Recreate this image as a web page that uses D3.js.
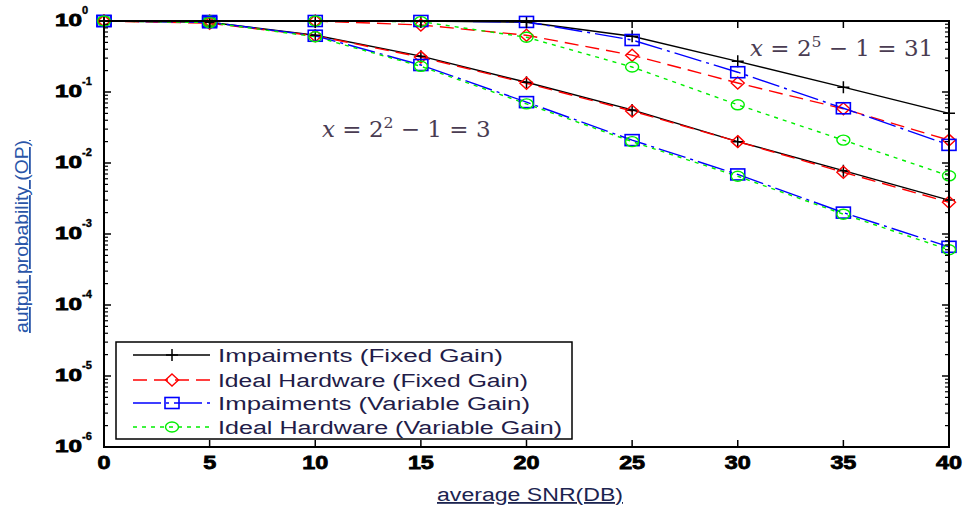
<!DOCTYPE html>
<html><head><meta charset="utf-8">
<script src="https://cdn.jsdelivr.net/npm/d3@7"></script>
<style>body{margin:0;background:#fff}svg{display:block}</style>
</head><body>
<script>
const snr = [0,5,10,15,20,25,30,35,40];
// x = 2^5 - 1 = 31
const impFixed31   = [1, 1, 1, 1, 0.96, 0.61, 0.27, 0.117, 0.05];
const idealFixed31 = [1, 1, 1, 0.88, 0.63, 0.33, 0.134, 0.058, 0.021];
const impVar31     = [1, 1, 1, 1, 0.97, 0.54, 0.19, 0.059, 0.018];
const idealVar31   = [1, 1, 1, 0.98, 0.59, 0.225, 0.066, 0.021, 0.0066];
// x = 2^2 - 1 = 3
const impFixed3    = [1, 0.96, 0.63, 0.32, 0.137, 0.056, 0.020, 0.0078, 0.0030];
const idealFixed3  = [1, 0.93, 0.62, 0.31, 0.133, 0.054, 0.020, 0.0074, 0.0028];
const impVar3      = [1, 0.96, 0.62, 0.24, 0.072, 0.021, 0.0069, 0.0020, 0.00066];
const idealVar3    = [1, 0.95, 0.60, 0.23, 0.068, 0.020, 0.0065, 0.0019, 0.00060];
const xTicks = [0,5,10,15,20,25,30,35,40];
const yExponents = [0,-1,-2,-3,-4,-5,-6];
const legendLabels = ["Impaiments (Fixed Gain)","Ideal Hardware (Fixed Gain)","Impaiments (Variable Gain)","Ideal Hardware (Variable Gain)"];

const W=965,H=510;
const L=104,R=949,T=21,B=447;
const svg=d3.select("body").append("svg").attr("width",W).attr("height",H);
const x=d3.scaleLinear().domain([0,40]).range([L,R]);
const y=d3.scaleLog().domain([1e-6,1]).range([B,T]);

const styles=[
 {color:"#000",dash:null,marker:"plus"},
 {color:"#ff0000",dash:"14,7",marker:"diamond"},
 {color:"#0000ff",dash:"28,5,3,5",marker:"square"},
 {color:"#00ee00",dash:"4,5",marker:"circle"}
];
const groups=[[impFixed31,idealFixed31,impVar31,idealVar31],[impFixed3,idealFixed3,impVar3,idealVar3]];

function marker(g,type,cx,cy,color){
  if(type==="plus"){
    g.append("path").attr("d",`M${cx-6},${cy}H${cx+6}M${cx},${cy-6}V${cy+6}`).attr("stroke",color).attr("stroke-width",1.5).attr("fill","none");
  }else if(type==="diamond"){
    g.append("path").attr("d",`M${cx},${cy-6}L${cx+6.5},${cy}L${cx},${cy+6}L${cx-6.5},${cy}Z`).attr("stroke",color).attr("stroke-width",1.4).attr("fill","none");
  }else if(type==="square"){
    g.append("rect").attr("x",cx-7).attr("y",cy-5.5).attr("width",14).attr("height",11).attr("stroke",color).attr("stroke-width",1.6).attr("fill","none");
  }else{
    g.append("ellipse").attr("cx",cx).attr("cy",cy).attr("rx",6.5).attr("ry",5).attr("stroke",color).attr("stroke-width",1.4).attr("fill","none");
  }
}

const plot=svg.append("g");
const line=d3.line().x((d,i)=>x(snr[i])).y(d=>y(d));
groups.forEach(grp=>{
  grp.forEach((vals,k)=>{
    const s=styles[k];
    plot.append("path").datum(vals).attr("d",line).attr("fill","none").attr("stroke",s.color)
      .attr("stroke-width",1.4).attr("stroke-dasharray",s.dash);
  });
});
groups.forEach(grp=>{
  grp.forEach((vals,k)=>{
    const s=styles[k];
    vals.forEach((v,i)=>marker(plot,s.marker,x(snr[i]),y(v),s.color));
  });
});

// frame and ticks
const ax=svg.append("g").attr("stroke","#000");
ax.append("rect").attr("x",L).attr("y",T).attr("width",R-L).attr("height",B-T).attr("fill","none").attr("stroke-width",2);
xTicks.forEach(t=>{
  ax.append("line").attr("x1",x(t)).attr("x2",x(t)).attr("y1",B).attr("y2",B-7).attr("stroke-width",1.5);
  ax.append("line").attr("x1",x(t)).attr("x2",x(t)).attr("y1",T).attr("y2",T+7).attr("stroke-width",1.5);
});
yExponents.forEach(e=>{
  const v=Math.pow(10,e);
  ax.append("line").attr("x1",L).attr("x2",L+7).attr("y1",y(v)).attr("y2",y(v)).attr("stroke-width",1.5);
  ax.append("line").attr("x1",R).attr("x2",R-7).attr("y1",y(v)).attr("y2",y(v)).attr("stroke-width",1.5);
  if(e>-6){
    for(let m=2;m<=9;m++){
      const yy=y(Math.pow(10,e-1)*m);
      ax.append("line").attr("x1",L).attr("x2",L+4).attr("y1",yy).attr("y2",yy).attr("stroke-width",1.2);
      ax.append("line").attr("x1",R).attr("x2",R-4).attr("y1",yy).attr("y2",yy).attr("stroke-width",1.2);
    }
  }
});

// tick labels
const lab=svg.append("g").attr("font-family","Liberation Sans, Arial, sans-serif").attr("font-weight","bold").attr("fill","#000");
xTicks.forEach(t=>{
  const s=String(t);
  lab.append("text").attr("x",x(t)).attr("y",469).attr("text-anchor","middle").attr("font-size",18)
   .attr("stroke","#000").attr("stroke-width",0.8)
   .attr("textLength",s.length*13).attr("lengthAdjust","spacingAndGlyphs").text(s);
});
yExponents.forEach(e=>{
  const yy=y(Math.pow(10,e));
  lab.append("text").attr("x",55).attr("y",yy+5).attr("font-size",17)
   .attr("stroke","#000").attr("stroke-width",0.8)
   .attr("textLength",27).attr("lengthAdjust","spacingAndGlyphs").text("10");
  lab.append("text").attr("x",82).attr("y",yy-7).attr("font-size",11)
   .attr("stroke","#000").attr("stroke-width",0.4).text(e===0?"0":"-"+(-e));
});

// axis titles
svg.append("text").attr("x",437).attr("y",501)
  .attr("font-family","Liberation Sans, Arial, sans-serif").attr("font-size",18).attr("fill","#1c2450")
  .attr("textLength",186).attr("lengthAdjust","spacingAndGlyphs")
  .attr("text-decoration","underline").text("average SNR(DB)");
svg.append("text").attr("transform","translate(28,333) rotate(-90)")
  .attr("font-family","Liberation Sans, Arial, sans-serif").attr("font-size",18).attr("fill","#2a55a8")
  .attr("textLength",193).attr("lengthAdjust","spacingAndGlyphs")
  .attr("text-decoration","underline").text("autput probability (OP)");

// annotations
function annot(px,py,exp,rest,size){
  const t=svg.append("text").attr("x",px).attr("y",py).attr("font-family","DejaVu Serif, Liberation Serif, serif")
    .attr("font-size",size).attr("fill","#4a3c52");
  t.append("tspan").attr("font-style","italic").text("x");
  t.append("tspan").text(" = 2");
  t.append("tspan").attr("font-size",size*0.68).attr("dy",-size*0.4).text(exp);
  t.append("tspan").attr("dy",size*0.4).text(" \u2212 1 = "+rest);
}
annot(322,137,"2","3",23);
annot(750,56,"5","31",23);

// legend
const lg=svg.append("g");
lg.append("rect").attr("x",116).attr("y",342).attr("width",456).attr("height",97).attr("fill","#fff").attr("stroke","#000").attr("stroke-width",1.5);
const rowsY=[355,380,403,427];
const rowEnds=[503,528,530,562];
legendLabels.forEach((txt,k)=>{
  const s=styles[k], yy=rowsY[k];
  lg.append("line").attr("x1",133).attr("x2",210).attr("y1",yy).attr("y2",yy).attr("stroke",s.color)
    .attr("stroke-width",1.4).attr("stroke-dasharray",s.dash);
  marker(lg,s.marker,172,yy,s.color);
  lg.append("text").attr("x",218).attr("y",yy+6.5).attr("font-family","Liberation Sans, Arial, sans-serif")
    .attr("font-size",18).attr("fill","#221c48")
    .attr("textLength",rowEnds[k]-218).attr("lengthAdjust","spacingAndGlyphs").text(txt);
});
</script>
</body></html>
